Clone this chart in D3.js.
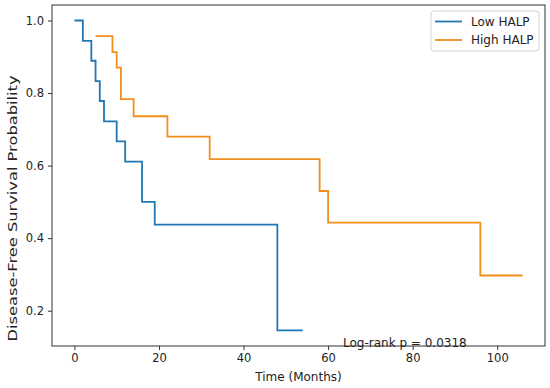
<!DOCTYPE html>
<html>
<head>
<meta charset="utf-8">
<script src="https://cdn.jsdelivr.net/npm/d3@7"></script>
<style>
  body { margin: 0; background: #fff; }
  text { font-family: "DejaVu Sans", sans-serif; fill: #222; }
</style>
</head>
<body>
<div class="chart"></div>
<script>
// Kaplan-Meier step points
const lowTime = [0, 2, 4, 5, 6, 7, 10, 12, 16, 19, 48, 54];
const lowSurv = [1.0, 0.944, 0.889, 0.833, 0.778, 0.722, 0.667, 0.611, 0.5, 0.4375, 0.146, 0.146];
const highTime = [5, 9, 10, 11, 14, 22, 32, 58, 60, 96, 106];
const highSurv = [0.957, 0.913, 0.870, 0.783, 0.736, 0.680, 0.618, 0.530, 0.443, 0.297, 0.297];
const seriesNames = ["Low HALP", "High HALP"];
const xTicks = [0, 20, 40, 60, 80, 100];
const yTicks = [0.2, 0.4, 0.6, 0.8, 1.0];
const pText = "Log-rank p = 0.0318";

const colors = ["#1f77b4", "#f28e1c"];
const w = 550, h = 388;
const plot = { left: 52, right: 545, top: 5, bottom: 346 };

const svg = d3.select(".chart").append("svg")
    .attr("width", w)
    .attr("height", h);

const x = d3.scaleLinear().domain([-5.3, 111.3]).range([plot.left, plot.right]);
const y = d3.scaleLinear().domain([0.1027, 1.0427]).range([plot.bottom, plot.top]);

// axes
const xAxis = d3.axisBottom(x).tickValues(xTicks).tickSize(4).tickPadding(4).tickFormat(d3.format("d"));
const yAxis = d3.axisLeft(y).tickValues(yTicks).tickSize(4).tickPadding(4).tickFormat(d3.format(".1f"));

const gx = svg.append("g")
    .attr("transform", `translate(0,${plot.bottom})`)
    .call(xAxis);
const gy = svg.append("g")
    .attr("transform", `translate(${plot.left},0)`)
    .call(yAxis);

[gx, gy].forEach(g => {
    g.select(".domain").remove();
    g.selectAll("line").attr("stroke", "#333");
    g.selectAll("text").style("font-size", "11.5px").attr("fill", "#222")
        .style("font-family", '"DejaVu Sans", sans-serif');
});

// curves
const line = d3.line()
    .x(d => x(d[0]))
    .y(d => y(d[1]))
    .curve(d3.curveStepAfter);

const series = [
    d3.zip(lowTime, lowSurv),
    d3.zip(highTime, highSurv)
];

svg.selectAll("path.km")
    .data(series)
    .enter().append("path")
    .attr("class", "km")
    .attr("d", line)
    .attr("fill", "none")
    .attr("stroke", (d, i) => colors[i])
    .attr("stroke-width", 1.8);

// frame
svg.append("rect")
    .attr("x", plot.left)
    .attr("y", plot.top)
    .attr("width", plot.right - plot.left)
    .attr("height", plot.bottom - plot.top)
    .attr("fill", "none")
    .attr("stroke", "#333")
    .attr("stroke-width", 1);

// labels
svg.append("text")
    .attr("x", (plot.left + plot.right) / 2)
    .attr("y", 381)
    .attr("text-anchor", "middle")
    .style("font-size", "12px")
    .text("Time (Months)");

svg.append("text")
    .attr("transform", "translate(12.5,208.5) rotate(-90)")
    .attr("text-anchor", "middle")
    .attr("dominant-baseline", "central")
    .attr("textLength", 266)
    .attr("lengthAdjust", "spacingAndGlyphs")
    .style("font-size", "12px")
    .text("Disease-Free Survival Probability");

svg.append("text")
    .attr("x", 343)
    .attr("y", 346.5)
    .style("font-size", "12px")
    .text(pText);

// legend
const legend = svg.append("g").attr("transform", "translate(431,11)");
legend.append("rect")
    .attr("width", 108)
    .attr("height", 40)
    .attr("rx", 3)
    .attr("fill", "#fff")
    .attr("fill-opacity", 0.8)
    .attr("stroke", "#d0d0d0");

const item = legend.selectAll("g.item")
    .data(seriesNames)
    .enter().append("g")
    .attr("class", "item")
    .attr("transform", (d, i) => `translate(0,${10.5 + i * 18.5})`);

item.append("line")
    .attr("x1", 4).attr("x2", 31)
    .attr("stroke", (d, i) => colors[i])
    .attr("stroke-width", 1.8);

item.append("text")
    .attr("x", 40)
    .attr("dominant-baseline", "central")
    .style("font-size", "12px")
    .text(d => d);
</script>
</body>
</html>
